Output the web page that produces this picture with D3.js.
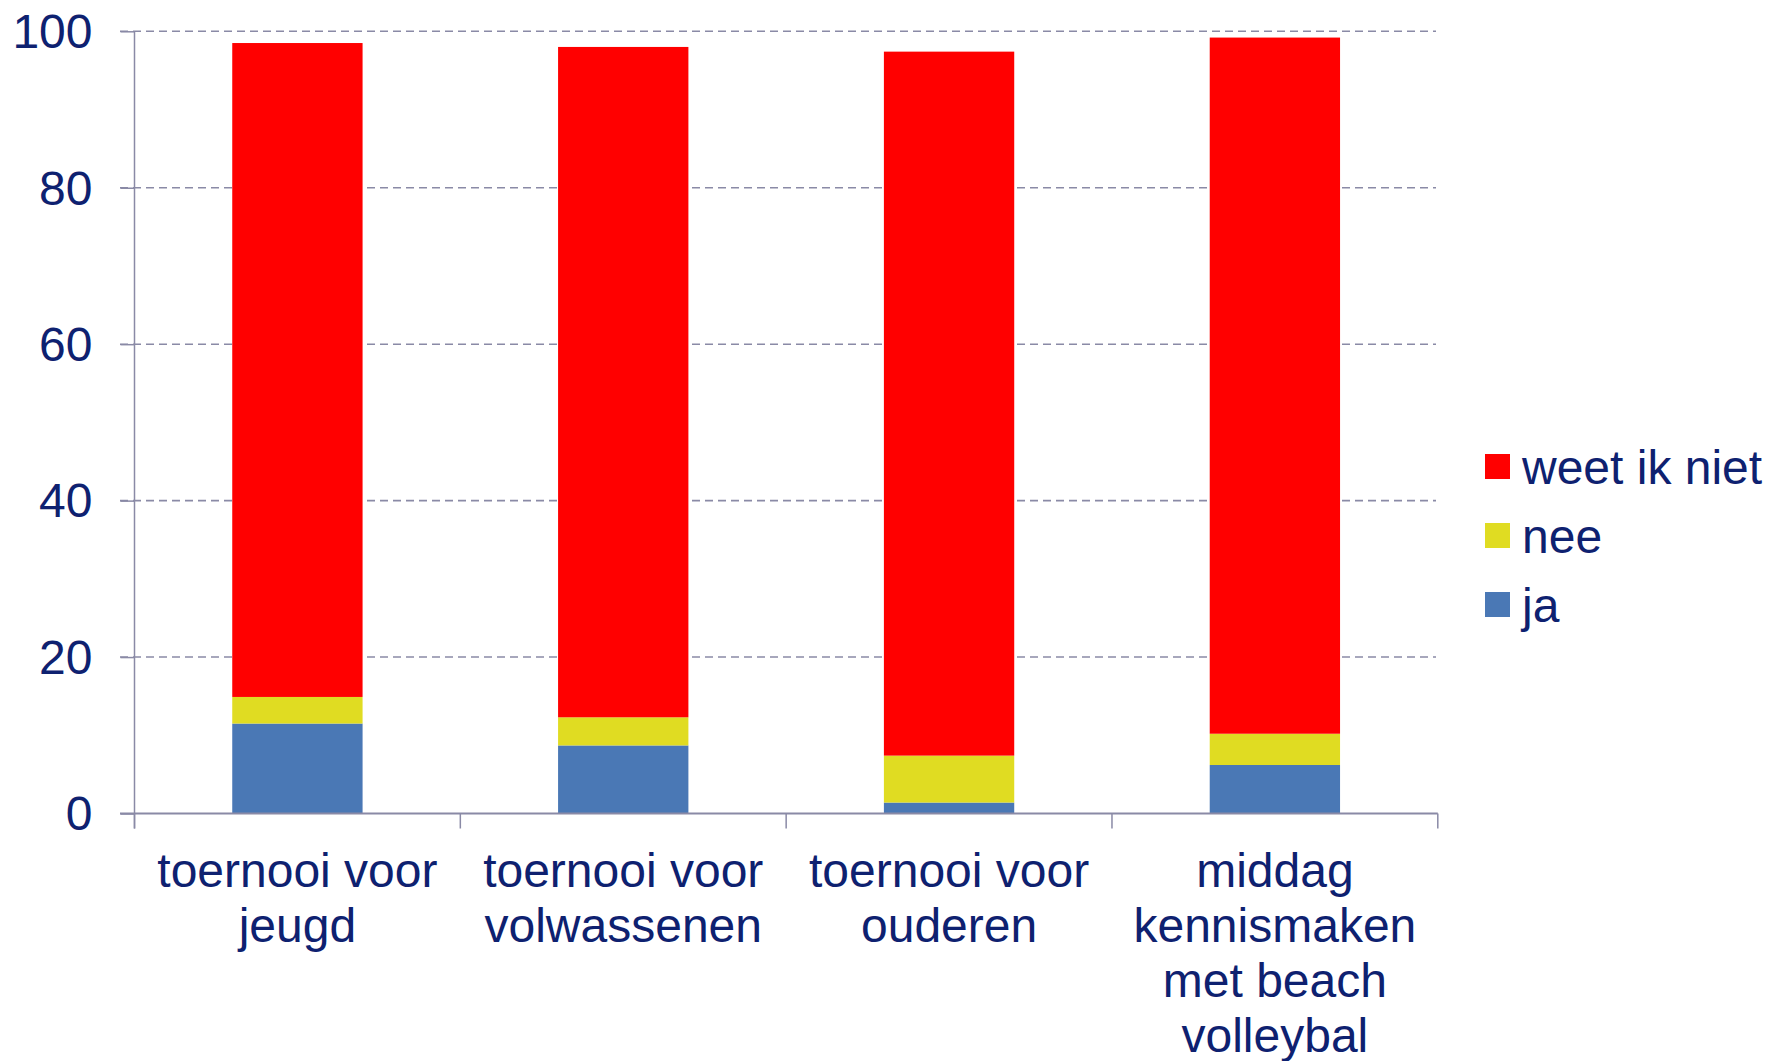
<!DOCTYPE html>
<html>
<head>
<meta charset="utf-8">
<script src="https://cdn.jsdelivr.net/npm/d3@7"></script>
<style>
  html, body { margin: 0; padding: 0; background: #fff; }
  svg { display: block; font-family: "Liberation Sans", Arial, sans-serif; }
</style>
</head>
<body>
<svg id="chart" width="1767" height="1061"></svg>
<script>
const categories = ["toernooi voor jeugd", "toernooi voor volwassenen", "toernooi voor ouderen", "middag kennismaken met beach volleybal"];
const categoryLines = [["toernooi voor", "jeugd"], ["toernooi voor", "volwassenen"], ["toernooi voor", "ouderen"], ["middag", "kennismaken", "met beach", "volleybal"]];
const seriesNames = ["ja", "nee", "weet ik niet"];
const ja = [11.5, 8.7, 1.4, 6.2];
const nee = [3.4, 3.6, 6.0, 4.0];
const weetIkNiet = [83.6, 85.7, 90.0, 89.0];
const yTicks = [0, 20, 40, 60, 80, 100];
const colors = ["#4A78B5", "#E0DC22", "#FF0000"];

(function () {
const textColor = "#0E2170";
const axisColor = "#8A8AA6";

const svg = d3.select("#chart");
const mLeft = 134.5, mRight = 1437.8, mTop = 31.3, mBottom = 813.5;

const x = d3.scaleBand().domain(categories).range([mLeft, mRight]).padding(0);
const y = d3.scaleLinear().domain([0, 100]).range([mBottom, mTop]);

// gridlines
svg.append("g").selectAll("line").data(yTicks.filter(d => d > 0)).join("line")
  .attr("x1", 120).attr("x2", 1436)
  .attr("y1", d => y(d)).attr("y2", d => y(d))
  .attr("stroke", axisColor).attr("stroke-width", 1.6).attr("stroke-dasharray", "8,5");

// stacked data
const rows = categories.map((c, i) => ({ cat: c, "ja": ja[i], "nee": nee[i], "weet ik niet": weetIkNiet[i] }));
const stack = d3.stack().keys(seriesNames)(rows);
const bw = x.bandwidth() * 0.4;

svg.append("g").selectAll("g").data(stack).join("g")
  .attr("fill", (d, i) => colors[i])
  .selectAll("rect").data(d => d).join("rect")
  .attr("x", d => x(d.data.cat) + (x.bandwidth() - bw) / 2)
  .attr("width", bw)
  .attr("y", d => y(d[1]))
  .attr("height", d => y(d[0]) - y(d[1]));

// y axis
const yAxis = d3.axisLeft(y).tickValues(yTicks).tickSize(14).tickPadding(28).tickFormat(d3.format("d"));
const gy = svg.append("g").attr("transform", `translate(${mLeft},0)`).call(yAxis);
gy.select(".domain").remove();
gy.selectAll(".tick line").attr("stroke", axisColor).attr("stroke-width", 1.5);
gy.selectAll(".tick text").attr("fill", textColor).attr("font-size", 48)
  .attr("font-family", "'Liberation Sans', Arial, sans-serif").attr("dy", "0.34em");
svg.append("line").attr("x1", mLeft).attr("x2", mLeft).attr("y1", mTop).attr("y2", mBottom + 15)
  .attr("stroke", axisColor).attr("stroke-width", 1.5);

// x axis
svg.append("line").attr("x1", 120).attr("x2", mRight).attr("y1", mBottom).attr("y2", mBottom)
  .attr("stroke", axisColor).attr("stroke-width", 2);
const boundaries = categories.map(c => x(c)).concat([x(categories[categories.length - 1]) + x.bandwidth()]);
svg.append("g").selectAll("line").data(boundaries).join("line")
  .attr("x1", d => d).attr("x2", d => d).attr("y1", mBottom).attr("y2", mBottom + 15)
  .attr("stroke", axisColor).attr("stroke-width", 1.5);

// x labels
const lab = svg.append("g");
categories.forEach((c, i) => {
  const cx = x(c) + x.bandwidth() / 2;
  const t = lab.append("text").attr("text-anchor", "middle").attr("fill", textColor)
    .attr("font-size", 48).attr("x", cx).attr("y", 887);
  categoryLines[i].forEach((ln, j) => {
    t.append("tspan").attr("x", cx).attr("y", 887 + j * 55).text(ln);
  });
});

// legend
const legendOrder = [2, 1, 0];
const lg = svg.append("g");
legendOrder.forEach((si, k) => {
  const ly = 454 + k * 69;
  lg.append("rect").attr("x", 1485).attr("y", ly).attr("width", 25).attr("height", 25).attr("fill", colors[si]);
  lg.append("text").attr("x", 1522).attr("y", ly + 12.5).attr("dy", "0.36em")
    .attr("fill", textColor).attr("font-size", 48).text(seriesNames[si]);
});
})();
</script>
</body>
</html>
